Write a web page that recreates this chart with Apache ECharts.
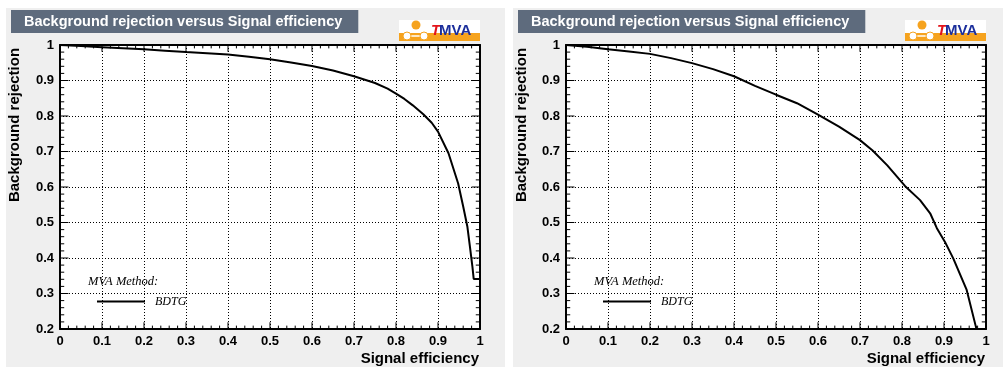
<!DOCTYPE html>
<html><head><meta charset="utf-8">
<script src="https://cdn.jsdelivr.net/npm/echarts@6/dist/echarts.min.js"></script>
<style>html,body{margin:0;padding:0;background:#fff}#c{width:1003px;height:367px}</style>
</head><body><div id="c"></div>
<script>
const chartTitle = 'Background rejection versus Signal efficiency';
const xTitle = 'Signal efficiency';
const yTitle = 'Background rejection';
const legendHeader = 'MVA Method:';
const methodName = 'BDTG';

// Left panel curve
const effLeft = [0, 0.05, 0.1, 0.15, 0.2, 0.25, 0.3, 0.35, 0.4, 0.45, 0.5, 0.55, 0.6, 0.65, 0.7, 0.75, 0.78, 0.8, 0.82, 0.84, 0.865, 0.885, 0.9, 0.925, 0.948, 0.96, 0.97, 0.976, 0.982, 0.985, 1.0];
const rejLeft = [1.0, 0.997, 0.994, 0.991, 0.988, 0.984, 0.98, 0.977, 0.973, 0.967, 0.96, 0.951, 0.941, 0.928, 0.912, 0.893, 0.877, 0.863, 0.848, 0.83, 0.805, 0.781, 0.756, 0.695, 0.61, 0.545, 0.488, 0.432, 0.375, 0.341, 0.341];

// Right panel curve
const effRight = [0, 0.05, 0.1, 0.15, 0.2, 0.25, 0.3, 0.35, 0.4, 0.45, 0.5, 0.55, 0.6, 0.65, 0.7, 0.73, 0.765, 0.807, 0.843, 0.867, 0.883, 0.902, 0.922, 0.954, 0.976, 0.98];
const rejRight = [1.0, 0.995, 0.988, 0.982, 0.975, 0.963, 0.949, 0.932, 0.912, 0.885, 0.86, 0.836, 0.804, 0.77, 0.732, 0.703, 0.661, 0.603, 0.563, 0.526, 0.484, 0.446, 0.399, 0.31, 0.206, 0.19];

const xTickLabels = ['0','0.1','0.2','0.3','0.4','0.5','0.6','0.7','0.8','0.9','1'];
const yTickLabels = ['0.2','0.3','0.4','0.5','0.6','0.7','0.8','0.9','1'];
const MINOR_DIV = 5;

const chart = echarts.init(document.getElementById('c'), null, {renderer: 'canvas'});

const SANS = 'Liberation Sans, Arial, Helvetica, sans-serif';
const SERIF = 'Liberation Serif, Times New Roman, serif';
const PANEL_BG = '#efefef';
const panels = [
  {panelX: 6, panelW: 499, gridLeft: 60, eff: effLeft, rej: rejLeft},
  {panelX: 513, panelW: 490, gridLeft: 566, eff: effRight, rej: rejRight}
];
const GT = 45, GW = 420, GH = 284, PANEL_TOP = 8, H = 367;
const X_MIN = 0, X_MAX = 1, Y_MIN = 0.2, Y_MAX = 1;
// tick lengths expressed as a fraction of the axis span
const MAJOR_FRAC = 0.028, MINOR_FRAC = 0.014;

function tickList(labels) {
  const major = labels.map(Number);
  const out = [];
  major.forEach((m, k) => {
    out.push([m, MAJOR_FRAC]);
    if (k < major.length - 1) {
      const step = (major[k + 1] - m) / MINOR_DIV;
      for (let j = 1; j < MINOR_DIV; j++) out.push([m + j * step, MINOR_FRAC]);
    }
  });
  return out;
}
const xTicks = tickList(xTickLabels);
const yTicks = tickList(yTickLabels);

// tick segments on all four frame sides, broken by null gaps
function xTickSegments() {
  const d = [], span = Y_MAX - Y_MIN;
  xTicks.forEach(([v, f]) => {
    d.push([v, Y_MIN], [v, Y_MIN + f * span * 0.85], null);
    d.push([v, Y_MAX], [v, Y_MAX - f * span * 0.85], null);
  });
  return d;
}
function yTickSegments() {
  const d = [], span = X_MAX - X_MIN;
  yTicks.forEach(([v, f]) => {
    d.push([X_MIN, v], [X_MIN + f * span * 0.72, v], null);
    d.push([X_MAX, v], [X_MAX - f * span * 0.72, v], null);
  });
  return d;
}

const grids = [], xAxes = [], yAxes = [], series = [], titles = [], legends = [], graphics = [];

function fmtX(v) { return xTickLabels[Math.round(v * 10)]; }
function fmtY(v) { return yTickLabels[Math.round(v * 10) - 2]; }

function common() {
  return {
    axisTick: {show: false},
    minorTick: {show: false},
    axisLine: {show: true, onZero: false, lineStyle: {color: '#000', width: 2}}
  };
}

function strip(x, y, w, h) {
  return {type: 'rect', z: -10, silent: true, shape: {x: x, y: y, width: w, height: h}, style: {fill: PANEL_BG}};
}

panels.forEach((p, i) => {
  const pr = p.panelX + p.panelW, gr = p.gridLeft + GW, gb = GT + GH;
  graphics.push(strip(p.panelX, PANEL_TOP, p.panelW, GT - PANEL_TOP));
  graphics.push(strip(p.panelX, gb, p.panelW, H - gb));
  graphics.push(strip(p.panelX, GT, p.gridLeft - p.panelX, GH));
  graphics.push(strip(gr, GT, pr - gr, GH));

  grids.push({left: p.gridLeft, top: GT, width: GW, height: GH, show: false, containLabel: false});
  const labelStyle = {show: true, color: '#000', fontFamily: SANS, fontWeight: 'bold', fontSize: 13};
  xAxes.push(Object.assign({
    type: 'value', gridIndex: i, position: 'bottom', min: X_MIN, max: X_MAX, interval: 0.1,
    axisLabel: Object.assign({}, labelStyle, {margin: 6, formatter: fmtX}),
    splitLine: {show: true, lineStyle: {color: '#000', width: 1, type: [1, 2]}}
  }, common()));
  xAxes.push(Object.assign({
    type: 'value', gridIndex: i, position: 'top', min: X_MIN, max: X_MAX, interval: 0.1,
    axisLabel: {show: false}, splitLine: {show: false}
  }, common()));
  yAxes.push(Object.assign({
    type: 'value', gridIndex: i, position: 'left', min: Y_MIN, max: Y_MAX, interval: 0.1,
    axisLabel: Object.assign({}, labelStyle, {margin: 6, formatter: fmtY}),
    splitLine: {show: true, lineStyle: {color: '#000', width: 1, type: [1, 2]}}
  }, common()));
  yAxes.push(Object.assign({
    type: 'value', gridIndex: i, position: 'right', min: Y_MIN, max: Y_MAX, interval: 0.1,
    axisLabel: {show: false}, splitLine: {show: false}
  }, common()));
  series.push({
    name: methodName, type: 'line', xAxisIndex: 2 * i, yAxisIndex: 2 * i,
    data: p.eff.map((e, k) => [e, p.rej[k]]),
    symbol: 'none', lineStyle: {color: '#000', width: 2}, itemStyle: {color: '#000'},
    clip: true, animation: false, z: 20
  });
  series.push({
    name: 'xticks' + i, type: 'line', xAxisIndex: 2 * i, yAxisIndex: 2 * i,
    data: xTickSegments(), connectNulls: false, symbol: 'none', silent: true,
    lineStyle: {color: '#000', width: 1}, itemStyle: {color: '#000'}, z: 15, clip: false, animation: false
  });
  series.push({
    name: 'yticks' + i, type: 'line', xAxisIndex: 2 * i, yAxisIndex: 2 * i,
    data: yTickSegments(), connectNulls: false, symbol: 'none', silent: true,
    lineStyle: {color: '#000', width: 1}, itemStyle: {color: '#000'}, z: 15, clip: false, animation: false
  });
  titles.push({
    text: chartTitle, left: p.panelX + 5, top: 10,
    backgroundColor: '#5e6b7d', padding: [4, 16, 4, 13],
    textStyle: {color: '#fff', fontFamily: SANS, fontWeight: 'bold', fontSize: 14.5, lineHeight: 15}
  });
  legends.push({
    left: p.gridLeft + 32, top: 290.5, data: [methodName], selectedMode: false,
    icon: 'rect', itemWidth: 48, itemHeight: 2, itemGap: 0,
    itemStyle: {color: '#000'},
    textStyle: {color: '#000', fontFamily: SERIF, fontStyle: 'italic', fontSize: 12, padding: [2, 0, 0, 5]}
  });
  graphics.push({type: 'text', x: p.gridLeft + 28, y: 282, style: {text: legendHeader, fill: '#000', font: 'italic 12.5px ' + SERIF, textAlign: 'left', textVerticalAlign: 'middle'}});
  graphics.push({type: 'text', x: p.gridLeft + GW - 1, y: 358.5, style: {text: xTitle, fill: '#000', font: 'bold 15px ' + SANS, textAlign: 'right', textVerticalAlign: 'middle'}});
  graphics.push({type: 'text', x: p.panelX + 9, y: 125, rotation: Math.PI / 2, style: {text: yTitle, fill: '#000', font: 'bold 15px ' + SANS, textAlign: 'center', textVerticalAlign: 'middle'}});
  const lx = p.gridLeft + 339, ly = 20;
  graphics.push({type: 'group', x: lx, y: ly, children: [
    {type: 'rect', shape: {x: 0, y: 0, width: 81, height: 21}, style: {fill: '#fff'}},
    {type: 'rect', shape: {x: 0, y: 13, width: 81, height: 8}, style: {fill: '#f6a31e'}},
    {type: 'circle', shape: {cx: 17, cy: 5, r: 4.5}, style: {fill: '#f6a31e'}},
    {type: 'line', shape: {x1: 8, y1: 16, x2: 25, y2: 16}, style: {stroke: '#fff', lineWidth: 1.5}},
    {type: 'circle', shape: {cx: 8, cy: 16, r: 4}, style: {fill: '#fff', stroke: '#f6a31e', lineWidth: 1}},
    {type: 'circle', shape: {cx: 25, cy: 16, r: 4}, style: {fill: '#fff', stroke: '#f6a31e', lineWidth: 1}},
    {type: 'text', x: 32, y: 11, style: {text: 'T', fill: '#e3141b', font: 'italic bold 15px ' + SANS, textVerticalAlign: 'middle'}},
    {type: 'text', x: 40, y: 11, style: {text: 'MVA', fill: '#1c2f9c', font: 'bold 15px ' + SANS, textVerticalAlign: 'middle'}}
  ]});
});

chart.setOption({
  animation: false,
  backgroundColor: '#fff',
  title: titles,
  legend: legends,
  grid: grids,
  xAxis: xAxes,
  yAxis: yAxes,
  series: series,
  graphic: {elements: graphics}
});
</script>
</body></html>
